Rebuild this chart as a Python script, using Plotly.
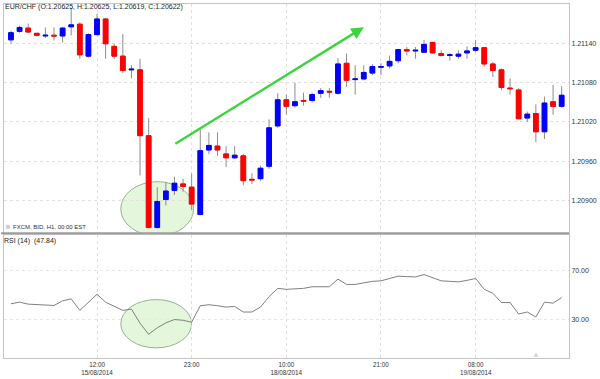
import plotly.graph_objects as go

# ---------------- data ----------------
open_ = [1.21146, 1.21159, 1.21164, 1.21156, 1.21152, 1.21153, 1.21152, 1.21166, 1.21170, 1.21121,
         1.21154, 1.21178, 1.21136, 1.21121, 1.21100, 1.21100, 1.20999, 1.20858, 1.20901, 1.20915,
         1.20925, 1.20920, 1.20878, 1.20977, 1.20983, 1.20971, 1.20965, 1.20968, 1.20932, 1.20933,
         1.20952, 1.21014, 1.21054, 1.21045, 1.21053, 1.21053, 1.21064, 1.21067, 1.21064, 1.21110,
         1.21085, 1.21086, 1.21095, 1.21104, 1.21106, 1.21114, 1.21131, 1.21129, 1.21127, 1.21142,
         1.21125, 1.21122, 1.21121, 1.21126, 1.21130, 1.21134, 1.21109, 1.21100, 1.21072, 1.21069,
         1.21026, 1.21033, 1.21005, 1.21051, 1.21044]
high = [1.21160, 1.21168, 1.21171, 1.21157, 1.21165, 1.21165, 1.21166, 1.21195, 1.21173, 1.21156,
        1.21186, 1.21179, 1.21140, 1.21155, 1.21107, 1.21117, 1.21026, 1.20920, 1.20928, 1.20936,
        1.20933, 1.20941, 1.21009, 1.21004, 1.21004, 1.20983, 1.20983, 1.20971, 1.20941, 1.20953,
        1.21024, 1.21064, 1.21062, 1.21080, 1.21065, 1.21065, 1.21072, 1.21072, 1.21118, 1.21125,
        1.21107, 1.21107, 1.21109, 1.21110, 1.21122, 1.21132, 1.21135, 1.21135, 1.21146, 1.21143,
        1.21130, 1.21126, 1.21130, 1.21136, 1.21146, 1.21135, 1.21112, 1.21102, 1.21087, 1.21072,
        1.21036, 1.21047, 1.21059, 1.21077, 1.21075]
low = [1.21140, 1.21157, 1.21156, 1.21151, 1.21149, 1.21145, 1.21142, 1.21153, 1.21117, 1.21119,
       1.21153, 1.21117, 1.21117, 1.21095, 1.21087, 1.20938, 1.20857, 1.20857, 1.20892, 1.20908,
       1.20913, 1.20885, 1.20877, 1.20971, 1.20968, 1.20951, 1.20963, 1.20923, 1.20925, 1.20930,
       1.20948, 1.21011, 1.21031, 1.21042, 1.21045, 1.21050, 1.21057, 1.21057, 1.21062, 1.21074,
       1.21062, 1.21084, 1.21092, 1.21092, 1.21102, 1.21110, 1.21122, 1.21117, 1.21126, 1.21125,
       1.21120, 1.21114, 1.21117, 1.21117, 1.21127, 1.21105, 1.21089, 1.21069, 1.21062, 1.21024,
       1.21020, 1.20989, 1.20994, 1.21031, 1.21042]
close = [1.21157, 1.21165, 1.21158, 1.21153, 1.21153, 1.21152, 1.21164, 1.21169, 1.21123, 1.21154,
         1.21178, 1.21140, 1.21121, 1.21099, 1.21101, 1.20999, 1.20858, 1.20898, 1.20914, 1.20926,
         1.20921, 1.20894, 1.20976, 1.20984, 1.20977, 1.20965, 1.20969, 1.20930, 1.20931, 1.20949,
         1.21011, 1.21054, 1.21044, 1.21051, 1.21052, 1.21062, 1.21068, 1.21066, 1.21109, 1.21084,
         1.21086, 1.21096, 1.21105, 1.21105, 1.21113, 1.21131, 1.21129, 1.21130, 1.21139, 1.21126,
         1.21122, 1.21123, 1.21124, 1.21129, 1.21134, 1.21109, 1.21099, 1.21073, 1.21071, 1.21025,
         1.21032, 1.21005, 1.21049, 1.21044, 1.21061]
rsi = [42.8, 44.1, 42.5, 42.2, 41.8, 41.4, 45.2, 46.8, 37.4, 44.0,
       50.5, 44.1, 40.6, 37.4, 38.5, 27.0, 18.0, 23.3, 27.3, 30.0,
       29.4, 27.8, 41.2, 42.0, 41.2, 40.1, 40.6, 36.1, 36.1, 40.1,
       48.6, 55.3, 54.5, 54.8, 55.3, 56.6, 56.4, 56.6, 62.8, 58.5,
       58.5, 59.6, 61.0, 61.4, 63.2, 65.2, 64.8, 64.6, 66.5, 63.8,
       61.4, 61.0, 60.6, 61.8, 63.3, 54.5, 51.3, 43.8, 43.8, 34.5,
       36.1, 32.1, 44.1, 43.3, 47.84]

x_tick_idx = [10, 21, 32, 43, 54]
x_tick_labels = ["12:00<br>15/08/2014", "23:00", "10:00<br>18/08/2014", "21:00", "08:00<br>19/08/2014"]
price_ticks = [1.20900, 1.20960, 1.21020, 1.21080, 1.21140]
rsi_ticks = [30, 70]

title_text = "EUR/CHF (O:1.20625, H:1.20625, L:1.20619, C:1.20622)"
source_text = "FXCM, BID, H1, 00:00 EST"
rsi_text = "RSI (14)  (47.84)"

# ---------------- figure ----------------
W, H = 600, 379
ML, MR, MT, MB = 3, 31, 3, 17
PW, PH = W - ML - MR, H - MT - MB


def px(xp):
    return (xp - ML) / PW


def py(yp):
    return (H - MB - yp) / PH


n = len(open_)
xs = list(range(n))
body_hi = [max(o, c) for o, c in zip(open_, close)]
body_lo = [min(o, c) for o, c in zip(open_, close)]

FONT = "Liberation Sans, Arial, sans-serif"
GRID = "#e0e0e0"
AXL = "#c4c4c4"

fig = go.Figure()

# wicks (grey)
fig.add_trace(go.Candlestick(
    x=xs, open=open_, high=high, low=low, close=close,
    increasing=dict(line=dict(color="#8c8c8c", width=1), fillcolor="#8c8c8c"),
    decreasing=dict(line=dict(color="#8c8c8c", width=1), fillcolor="#8c8c8c"),
    whiskerwidth=0, hoverinfo="skip", showlegend=False, xaxis="x", yaxis="y"))
# coloured bodies
fig.add_trace(go.Candlestick(
    x=xs, open=open_, high=body_hi, low=body_lo, close=close,
    increasing=dict(line=dict(color="#0000ff", width=1), fillcolor="#0000ff"),
    decreasing=dict(line=dict(color="#ff0000", width=1), fillcolor="#ff0000"),
    whiskerwidth=0, hoverinfo="skip", showlegend=False, xaxis="x", yaxis="y"))

fig.add_trace(go.Scatter(
    x=xs, y=rsi, mode="lines", line=dict(color="#808080", width=1),
    hoverinfo="skip", showlegend=False, xaxis="x2", yaxis="y2"))

main_bottom = py(235)
rsi_top = py(237)

xcommon = dict(range=[-0.81, 64.85], tickmode="array", tickvals=x_tick_idx,
               showgrid=True, gridcolor=GRID, griddash="dot", gridwidth=1,
               zeroline=False, showline=True, linecolor=AXL, linewidth=1, mirror=True,
               ticks="", fixedrange=True)

fig.update_layout(
    width=W, height=H,
    margin=dict(l=ML, r=MR, t=MT, b=MB, pad=0),
    paper_bgcolor="white", plot_bgcolor="white",
    font=dict(family=FONT, size=7, color="#333333"),
    boxgap=0.22,
    showlegend=False,
    xaxis=dict(**xcommon, domain=[0, 1], anchor="y", showticklabels=False,
               rangeslider=dict(visible=False)),
    xaxis2=dict(**xcommon, domain=[0, 1], anchor="y2", matches="x",
                ticktext=x_tick_labels, showticklabels=True,
                tickfont=dict(size=6.3, color="#333333", family=FONT)),
    yaxis=dict(domain=[main_bottom, 1], range=[1.20850, 1.21201], side="right",
               tickmode="array", tickvals=price_ticks,
               ticktext=[f"{v:.5f}" for v in price_ticks],
               showgrid=True, gridcolor=GRID, griddash="dot", zeroline=False,
               showline=True, linecolor=AXL, mirror=True, ticks="", fixedrange=True,
               tickfont=dict(size=7)),
    yaxis2=dict(domain=[0, rsi_top], range=[-1.2, 98.8], side="right",
                tickmode="array", tickvals=rsi_ticks,
                ticktext=[f"{v:.2f}" for v in rsi_ticks],
                showgrid=True, gridcolor="#e8e8e8", griddash="dot", zeroline=False,
                showline=True, linecolor=AXL, mirror=True, ticks="", fixedrange=True,
                tickfont=dict(size=7)),
)

shapes = [
    # highlight ellipses
    dict(type="circle", xref="x", yref="y", x0=12.76, x1=21.23, y0=1.20845, y1=1.209284,
         fillcolor="#e4f7da", line=dict(color="#93b293", width=1), layer="below"),
    dict(type="circle", xref="x2", yref="y2", x0=12.76, x1=21.0, y0=7.0, y1=46.2,
         fillcolor="#e4f7da", line=dict(color="#93b293", width=1), layer="below"),
    # panel divider
    dict(type="line", xref="paper", yref="paper", x0=px(0), x1=1, y0=py(235.5), y1=py(235.5),
         line=dict(color="#9c9c9c", width=2)),
    # small source icon
    dict(type="rect", xref="paper", yref="paper", x0=px(5), x1=px(9), y0=py(231), y1=py(227),
         fillcolor="#d0d0d0", line=dict(width=0)),
]
fig.update_layout(shapes=shapes)

annotations = [
    dict(text=title_text, xref="paper", yref="paper", x=px(3), y=py(6.5),
         xanchor="left", yanchor="middle", showarrow=False, borderpad=0,
         font=dict(size=7, color="#222222")),
    dict(text=source_text, xref="paper", yref="paper", x=px(11), y=py(229),
         xanchor="left", yanchor="middle", showarrow=False, borderpad=0,
         font=dict(size=6, color="#333333")),
    dict(text=rsi_text, xref="paper", yref="paper", x=px(2), y=py(243),
         xanchor="left", yanchor="middle", showarrow=False, borderpad=0,
         font=dict(size=7, color="#222222")),
    dict(text="▲", xref="paper", yref="paper", x=px(536), y=py(358),
         xanchor="center", yanchor="middle", showarrow=False, borderpad=0,
         font=dict(size=8, color="#d6d6d6")),
    # green trend arrow
    dict(text="", xref="paper", yref="paper", x=px(363.5), y=py(26.5),
         ax=-190, ay=117.5, axref="pixel", ayref="pixel",
         showarrow=True, arrowhead=2, arrowsize=1, arrowwidth=2.5, arrowcolor="#3dd43d"),
]
fig.update_layout(annotations=annotations)

fig.write_html("out.html", config={"displayModeBar": False, "staticPlot": True},
               post_script="document.body.style.margin='0';document.body.style.padding='0';")
